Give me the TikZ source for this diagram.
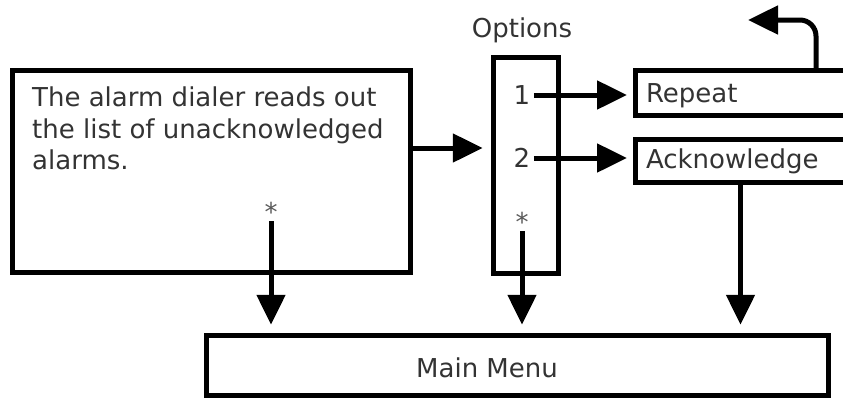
\documentclass[tikz,border=0pt]{standalone}
\usepackage{fontspec}
\setmainfont{DejaVu Sans}
\usetikzlibrary{arrows.meta,positioning}
\definecolor{inktext}{RGB}{51,51,51}
\definecolor{inkstar}{RGB}{90,90,90}

\begin{document}
\begin{tikzpicture}[
  x=1pt, y=-1pt,
  font=\fontsize{26}{31.5}\selectfont, text=inktext,
  >={Triangle[length=30pt, width=28pt]},
  box/.style={draw=black, line width=5pt, inner sep=0pt},
  item/.style={box, anchor=west, minimum width=268, text width=246,
    inner xsep=11pt, align=left},
  star/.style={inner sep=0pt, anchor=base, text=inkstar},
  flow/.style={->, line width=5pt, shorten >=6pt},
]
\useasboundingbox (0,0) rectangle (843,397);
\clip (0,0) rectangle (843,397);
\node[box, minimum width=398, minimum height=202] (dial) at (211,171) {};
\node[anchor=north west, inner sep=0pt, align=left] (dialtxt) at (32,87)
  {The alarm dialer reads out\\the list of unacknowledged\\alarms.};
\node[star] (dialstar) at (271,221) {*};
\node[box, minimum width=65.5, minimum height=216] (opts) at (526,165.5) {};
\node[anchor=base] (optstitle) at (522,37) {Options};
\node (opt1) at (522,95) {1};
\node (opt2) at (522,158) {2};
\node[star] (optstar) at (522,231) {*};
\node[item, minimum height=45, text depth=0pt] (rep) at (632.5,93) {Repeat};
\node[item, minimum height=43] (ack) at (632.5,161) {Acknowledge};
\node[box, minimum width=622, minimum height=59.5] (menu) at (517,365.5) {};
\node (menutxt) at (487,368) {Main Menu};
\coordinate (dialout) at ([yshift=23pt]dial.east);
\coordinate (ackout) at ([xshift=-28.5pt]ack.south);
\coordinate (back) at (748,20);
\draw[flow, shorten >=8pt] (dialout) -- (dialout -| opts.west);
\draw[flow, shorten >=5.5pt] (opt1.east) -- (opt1.east -| rep.west);
\draw[flow, shorten >=5.5pt] (opt2.east) -- (opt2.east -| ack.west);
\draw[flow, shorten >=0pt, rounded corners=16pt] ([xshift=47pt]rep.north) |- (back);
\draw[flow, shorten >=8.5pt] (dialstar.base) -- (dialstar.base |- menu.north);
\draw[flow, shorten >=8.5pt] (optstar.base) -- (optstar.base |- menu.north);
\draw[flow, shorten >=8.5pt] (ackout) -- (ackout |- menu.north);
\end{tikzpicture}
\end{document}
